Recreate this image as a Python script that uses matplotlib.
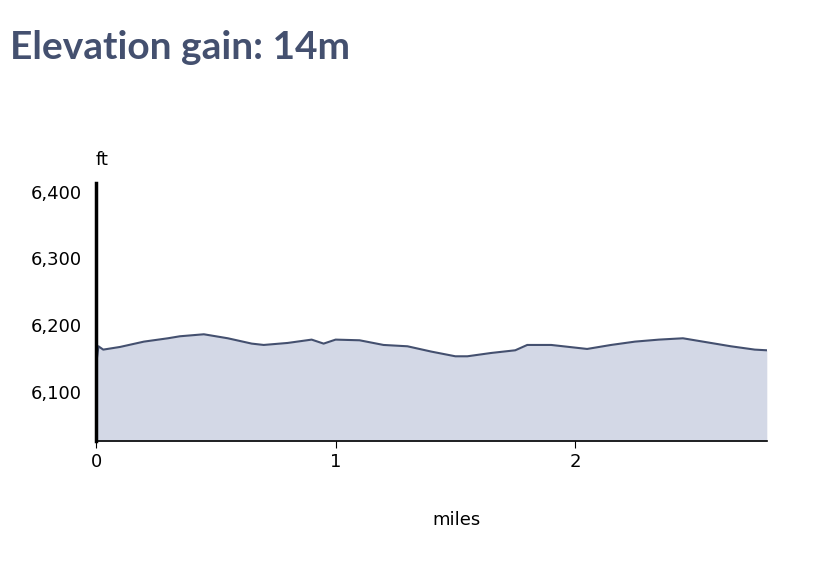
import matplotlib
matplotlib.use('Agg')
from matplotlib import pyplot as plt

# elevation profile (miles, ft)
dist = [0, 0.01, 0.03, 0.1, 0.2, 0.3, 0.35, 0.45, 0.55, 0.65, 0.7, 0.8, 0.9, 0.95,
        1.0, 1.1, 1.2, 1.3, 1.4, 1.5, 1.55, 1.65, 1.75, 1.8, 1.9, 2.0, 2.05, 2.15,
        2.25, 2.35, 2.45, 2.55, 2.65, 2.75, 2.8]
elev = [6140, 6168, 6163, 6167, 6175, 6180, 6183, 6186, 6180, 6172, 6170, 6173, 6178, 6172,
        6178, 6177, 6170, 6168, 6160, 6153, 6153, 6158, 6162, 6170, 6170, 6166, 6164, 6170,
        6175, 6178, 6180, 6174, 6168, 6163, 6162]
xticks = [0, 1, 2]
yticks = [6100, 6200, 6300, 6400]

fig = plt.figure(figsize=(8.14, 5.88), dpi=100)
ax = fig.add_axes([0.118, 0.25, 0.824, 0.439])
ax.fill_between(dist, 6020, elev, color='#d3d8e6', lw=0)
ax.plot(dist, elev, color='#44506f', lw=1.5)
ax.set_xlim(0, 2.8)
ax.set_ylim(6026, 6413)
ax.set_xticks(xticks)
ax.set_yticks(yticks)
ax.set_yticklabels(['{:,}'.format(v) for v in yticks])
for s in ['top', 'right']:
    ax.spines[s].set_visible(False)
ax.spines['left'].set_linewidth(2.5)
ax.spines['bottom'].set_linewidth(1.2)
ax.tick_params(axis='y', length=0, labelsize=13, pad=10)
ax.tick_params(axis='x', length=5, labelsize=13)
fig.text(0.118, 0.72, 'ft', fontsize=13)
fig.text(0.561, 0.107, 'miles', fontsize=13, ha='center')
fig.text(0.012, 0.9, 'Elevation gain: 14m', fontsize=28, fontweight='bold',
         color='#44506f', family=['Lato', 'DejaVu Sans'])
plt.savefig('out.png', dpi=100)
